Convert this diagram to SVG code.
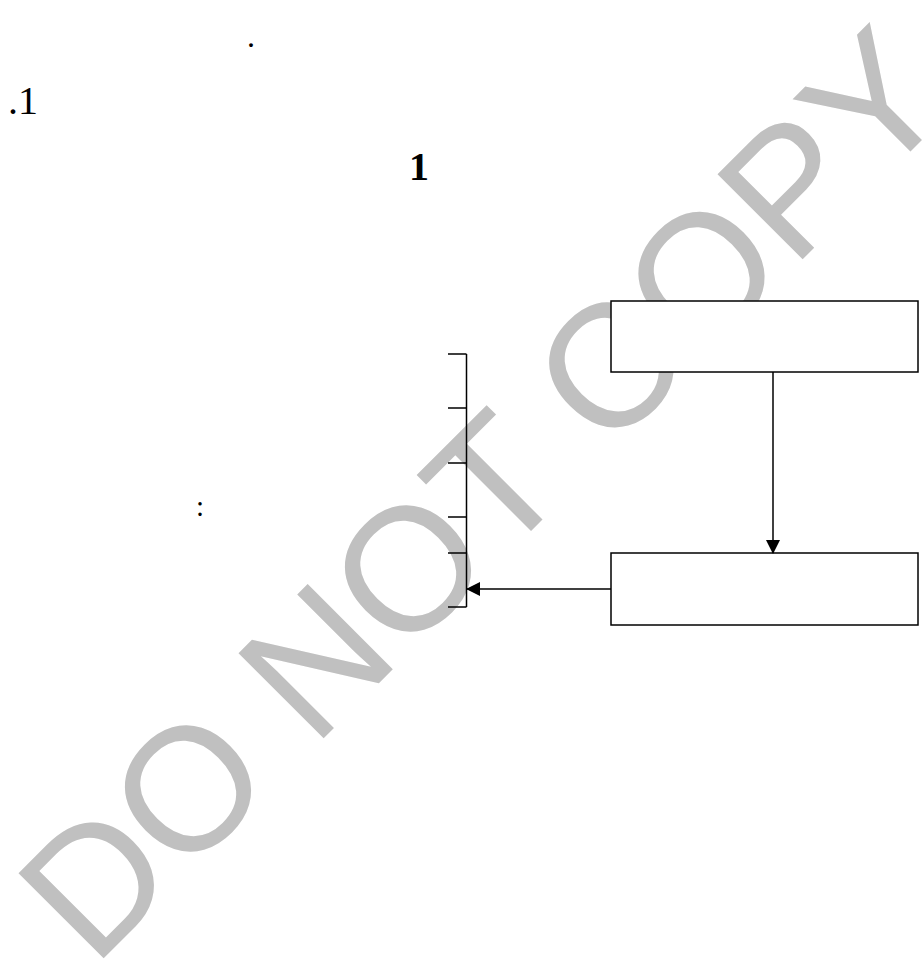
<svg xmlns="http://www.w3.org/2000/svg" width="924" height="962" viewBox="0 0 924 962">
<style>
.t{font-family:"Liberation Serif","Times New Roman",serif;fill:#000}
.box{fill:#fff;stroke:#000;stroke-width:1.5}
.ln{stroke:#000;stroke-width:1.5;fill:none}
.wm{font-family:"Liberation Sans",Arial,sans-serif;font-size:175px;fill:#c0c0c0}
</style>
<defs>
<marker id="ah" markerWidth="14" markerHeight="14" refX="13" refY="7" orient="auto" markerUnits="userSpaceOnUse">
<path d="M0,0 L14,7 L0,14 Z" fill="#000"/>
</marker>
</defs>
<rect width="924" height="962" fill="#fff"/>
<g id="watermark">
<text class="wm" transform="translate(93.5,968.5) rotate(-45)">DO NOT COPY</text>
</g>
<g id="texts">
<text class="t" x="247" y="47" font-size="32">.</text>
<text class="t" x="8" y="114" font-size="40">.1</text>
<text class="t" x="409" y="180" font-size="40" font-weight="bold">1</text>
<text class="t" x="196" y="516" font-size="29">:</text>
</g>
<g id="bracket">
<path class="ln" d="M466.5,354 V607 M448,354 H466.5 M448,408 H466.5 M448,463 H466.5 M448,517 H466.5 M448,553 H466.5 M448,607 H466.5"/>
</g>
<g id="node1">
<rect class="box" x="611" y="301" width="307" height="71"/>
</g>
<g id="node2">
<rect class="box" x="611" y="553" width="307" height="72"/>
</g>
<g id="connectors">
<line class="ln" x1="773" y1="372" x2="773" y2="553" marker-end="url(#ah)"/>
<line class="ln" x1="611" y1="589" x2="467" y2="589" marker-end="url(#ah)"/>
</g>
</svg>
